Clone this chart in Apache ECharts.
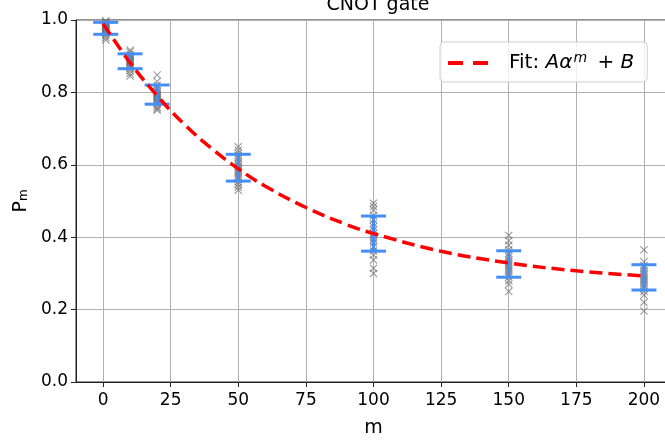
<!DOCTYPE html>
<html>
<head>
<meta charset="utf-8">
<script src="https://cdn.jsdelivr.net/npm/echarts@6/dist/echarts.min.js"></script>
<style>html,body{margin:0;padding:0;background:#fff}#c{width:665px;height:441px}</style>
</head>
<body>
<div id="c"></div>
<script>
// ---- data ----
var lengths = [1, 10, 20, 50, 100, 150, 200];
var samples_m1 = [0.998, 0.995, 0.993, 0.99, 0.988, 0.986, 0.984, 0.982, 0.98, 0.978, 0.976, 0.974, 0.972, 0.97, 0.968, 0.965, 0.962, 0.958, 0.952, 0.945];
var samples_m10 = [0.917, 0.912, 0.905, 0.9, 0.897, 0.894, 0.891, 0.889, 0.887, 0.885, 0.883, 0.88, 0.877, 0.874, 0.87, 0.866, 0.86, 0.852, 0.845];
var samples_m20 = [0.848, 0.83, 0.82, 0.812, 0.806, 0.801, 0.797, 0.794, 0.791, 0.788, 0.785, 0.782, 0.779, 0.776, 0.772, 0.767, 0.76, 0.755, 0.751];
var samples_m50 = [0.65, 0.64, 0.632, 0.625, 0.618, 0.61, 0.604, 0.598, 0.593, 0.588, 0.583, 0.578, 0.572, 0.566, 0.56, 0.552, 0.545, 0.538, 0.53];
var samples_m100 = [0.494, 0.485, 0.475, 0.46, 0.448, 0.438, 0.429, 0.42, 0.411, 0.405, 0.398, 0.392, 0.385, 0.374, 0.362, 0.351, 0.337, 0.314, 0.3];
var samples_m150 = [0.405, 0.39, 0.378, 0.365, 0.355, 0.346, 0.338, 0.332, 0.327, 0.322, 0.317, 0.311, 0.305, 0.298, 0.29, 0.28, 0.27, 0.25];
var samples_m200 = [0.365, 0.332, 0.322, 0.315, 0.308, 0.302, 0.297, 0.292, 0.287, 0.282, 0.277, 0.271, 0.265, 0.258, 0.25, 0.24, 0.22, 0.196];
var meanP = [0.977, 0.886, 0.794, 0.592, 0.41, 0.326, 0.289];
var stdP = [0.0165, 0.0205, 0.0265, 0.037, 0.0485, 0.0365, 0.035];
var fitM = [0, 10, 20, 30, 40, 50, 60, 75, 90, 100, 125, 150, 175, 200];
var fitP = [0.99, 0.882, 0.791, 0.712, 0.646, 0.589, 0.541, 0.482, 0.435, 0.41, 0.361, 0.329, 0.307, 0.293];
var xTicks = [0, 25, 50, 75, 100, 125, 150, 175, 200];

var allSamples = [samples_m1, samples_m10, samples_m20, samples_m50, samples_m100, samples_m150, samples_m200];
var scatterData = [];
allSamples.forEach(function (arr, i) { arr.forEach(function (v) { scatterData.push([lengths[i], v]); }); });
var errData = lengths.map(function (m, i) { return [m, meanP[i] - stdP[i], meanP[i] + stdP[i]]; });
var fitData = fitM.map(function (m, i) { return [m, fitP[i]]; });

var FONT = 'DejaVu Sans';
var chart = echarts.init(document.getElementById('c'));
var blue = '#448ef6';
chart.setOption({
  animation: false,
  title: {
    text: 'CNOT gate', left: 373, top: -9, textAlign: 'center',
    textStyle: { fontFamily: FONT, fontSize: 19, fontWeight: 'normal', color: '#000' }
  },
  grid: { left: 76, width: 595, top: 20, bottom: 59, outerBoundsMode: 'none', containLabel: false,
    show: true, borderColor: '#222', borderWidth: 1, backgroundColor: 'transparent' },
  legend: {
    left: 440, top: 42, orient: 'horizontal',
    itemWidth: 40, itemHeight: 14, itemGap: 10,
    padding: [9, 13, 9, 8],
    borderColor: '#d0d0d0', borderWidth: 1, borderRadius: 4, backgroundColor: 'rgba(255,255,255,0.8)',
    data: [{ name: 'fit', icon: 'path://M0,0L15,0L15,4L0,4Z M25,0L40,0L40,4L25,4Z' }],
    itemStyle: { color: '#ff0000' },
    formatter: function () { return '{f|Fit: }{i|A\u03b1}{s|m}{n| + }{i|B}'; },
    textStyle: {
      fontFamily: FONT, fontSize: 20, color: '#000',
      rich: {
        f: { fontFamily: FONT, fontSize: 20, padding: [0, 0, 0, 16] },
        n: { fontFamily: FONT, fontSize: 20 },
        i: { fontFamily: FONT, fontSize: 20, fontStyle: 'italic' },
        s: { fontFamily: FONT, fontSize: 14, fontStyle: 'italic', verticalAlign: 'top', padding: [0, 4, 10, 1] }
      }
    }
  },
  xAxis: {
    type: 'value', min: -10, max: 210,
    name: 'm', nameLocation: 'middle', nameGap: 37,
    nameTextStyle: { fontFamily: FONT, fontSize: 19, color: '#000' },
    axisLine: { show: true, onZero: false, lineStyle: { color: '#222', width: 1 } },
    axisTick: { show: true, length: 5, customValues: xTicks, lineStyle: { color: '#222' } },
    axisLabel: { customValues: xTicks, fontFamily: FONT, fontSize: 17, color: '#000', margin: 10 },
    splitLine: { show: true, lineStyle: { color: '#b0b0b0', width: 1 } }
  },
  yAxis: {
    type: 'value', min: 0, max: 1, interval: 0.2,
    name: '{p|P}{sub|m}', nameLocation: 'middle', nameGap: 45, nameRotate: 90,
    nameTextStyle: { fontFamily: FONT, fontSize: 19, color: '#000',
      rich: { p: { fontFamily: FONT, fontSize: 19 }, sub: { fontFamily: FONT, fontSize: 12, verticalAlign: 'bottom', padding: [6, 0, 0, 0] } } },
    axisLine: { show: true, onZero: false, lineStyle: { color: '#222', width: 1 } },
    axisTick: { show: true, length: 5, lineStyle: { color: '#222' } },
    axisLabel: { fontFamily: FONT, fontSize: 17, color: '#000', margin: 8, formatter: function (v) { return v.toFixed(1); } },
    splitLine: { show: true, lineStyle: { color: '#b0b0b0', width: 1 } }
  },
  series: [
    {
      name: 'samples', type: 'scatter', data: scatterData, z: 2,
      symbol: 'path://M0,1L1,0L5,4L9,0L10,1L6,5L10,9L9,10L5,6L1,10L0,9L4,5Z', symbolSize: 8,
      itemStyle: { color: 'rgba(110,110,110,0.85)' }
    },
    {
      name: 'err', type: 'custom', data: errData, z: 3,
      renderItem: function (params, api) {
        var x = api.value(0);
        var lo = api.coord([x, api.value(1)]);
        var hi = api.coord([x, api.value(2)]);
        var hw = 12.5;
        var st = { stroke: blue, lineWidth: 3 };
        return {
          type: 'group', children: [
            { type: 'line', shape: { x1: lo[0], y1: lo[1], x2: hi[0], y2: hi[1] }, style: st },
            { type: 'line', shape: { x1: lo[0] - hw, y1: lo[1], x2: lo[0] + hw, y2: lo[1] }, style: st },
            { type: 'line', shape: { x1: hi[0] - hw, y1: hi[1], x2: hi[0] + hw, y2: hi[1] }, style: st }
          ]
        };
      }
    },
    {
      name: 'fit', type: 'line', data: fitData, z: 4, smooth: 0.4, showSymbol: false, symbol: 'none',
      lineStyle: { color: '#ff0000', width: 3.5, type: [13, 6] },
      itemStyle: { color: '#ff0000' }
    }
  ]
});
</script>
</body>
</html>
